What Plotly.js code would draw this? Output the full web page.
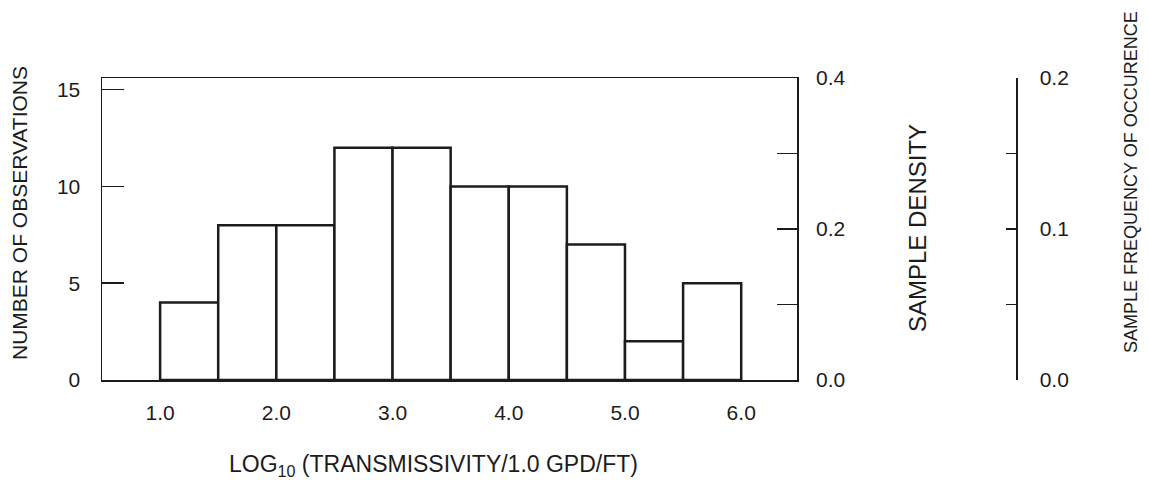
<!DOCTYPE html>
<html>
<head>
<meta charset="utf-8">
<script src="https://cdn.plot.ly/plotly-3.0.1.min.js"></script>
<style>html,body{margin:0;padding:0;background:#fff;}#chart{width:1149px;height:499px;}</style>
</head>
<body>
<div id="chart"></div>
<script>
// Data
const binStarts = [1.0, 1.5, 2.0, 2.5, 3.0, 3.5, 4.0, 4.5, 5.0, 5.5];
const counts    = [4, 8, 8, 12, 12, 10, 10, 7, 2, 5];
const binWidth  = 0.5;
const xTickVals = [1, 2, 3, 4, 5, 6];
const xTickText = ['1.0', '2.0', '3.0', '4.0', '5.0', '6.0'];
const countTickVals = [0, 5, 10, 15];

const total = counts.reduce((a, b) => a + b, 0);
const density = counts.map(c => c / (total * binWidth));
const frequency = counts.map(c => c / total);
const countMax = 15.6;

const ink = '#1c1c1c';
const fontFam = '"Liberation Sans", Arial, Helvetica, sans-serif';

const traces = [
  {
    type: 'bar', x: binStarts, y: counts, width: binWidth, offset: 0,
    marker: {color: '#ffffff', line: {color: ink, width: 2.5}},
    hoverinfo: 'skip', showlegend: false
  },
  {
    type: 'scatter', mode: 'markers', x: binStarts, y: density, yaxis: 'y2',
    marker: {opacity: 0}, hoverinfo: 'skip', showlegend: false
  },
  {
    type: 'scatter', mode: 'markers', x: binStarts, y: frequency, yaxis: 'y3',
    marker: {opacity: 0}, hoverinfo: 'skip', showlegend: false
  }
];

const plotW = 1149 - 102 - 133;
const tickSize = 21;
const layout = {
  width: 1149, height: 499,
  margin: {l: 102, r: 133, t: 78, b: 119, pad: 0},
  paper_bgcolor: '#ffffff', plot_bgcolor: '#ffffff',
  font: {family: fontFam, color: ink, size: tickSize},
  bargap: 0,
  showlegend: false,
  xaxis: {
    domain: [0, 695 / plotW], range: [0.5, 6.48],
    showline: true, linecolor: ink, linewidth: 1.5, mirror: true,
    ticks: 'inside', tickvals: xTickVals, ticktext: xTickText,
    ticklen: 8, tickwidth: 1.5, tickcolor: ink,
    showgrid: false, zeroline: false, ticklabelstandoff: 13,
    tickfont: {size: tickSize}
  },
  yaxis: {
    range: [0, countMax], tickvals: countTickVals,
    showline: true, linecolor: ink, linewidth: 1.5, mirror: true,
    ticks: 'inside', ticklen: 22, tickwidth: 1.5, tickcolor: ink,
    showgrid: false, zeroline: false, ticklabelstandoff: 16,
    tickfont: {size: tickSize}
  },
  yaxis2: {
    overlaying: 'y', side: 'right', anchor: 'x',
    range: [0, countMax / (total * binWidth)],
    tickmode: 'linear', tick0: 0, dtick: 0.2, tickformat: '.1f',
    ticks: 'inside', ticklen: 20, tickwidth: 1.5, tickcolor: ink,
    minor: {tick0: 0, dtick: 0.1, ticks: 'inside', ticklen: 20, tickwidth: 1.5, tickcolor: ink},
    showline: false, showgrid: false, zeroline: false, ticklabelstandoff: 18,
    tickfont: {size: tickSize}
  },
  yaxis3: {
    overlaying: 'y', side: 'right', anchor: 'free', position: 1,
    range: [0, countMax / total],
    tickmode: 'linear', tick0: 0, dtick: 0.1, tickformat: '.1f',
    ticks: 'inside', ticklen: 10, tickwidth: 1.5, tickcolor: ink,
    minor: {tick0: 0, dtick: 0.05, ticks: 'inside', ticklen: 10, tickwidth: 1.5, tickcolor: ink},
    showline: true, linecolor: ink, linewidth: 1.5,
    showgrid: false, zeroline: false, ticklabelstandoff: 18,
    tickfont: {size: tickSize}
  },
  annotations: [
    {text: 'NUMBER OF OBSERVATIONS', xref: 'paper', yref: 'paper',
     x: (20 - 102) / plotW, y: (380 - 213) / 302, textangle: -90,
     showarrow: false, xanchor: 'center', yanchor: 'middle', font: {size: 21}},
    {text: 'SAMPLE DENSITY', xref: 'paper', yref: 'paper',
     x: (917 - 102) / plotW, y: (380 - 228) / 302, textangle: -90,
     showarrow: false, xanchor: 'center', yanchor: 'middle', font: {size: 24}},
    {text: 'SAMPLE FREQUENCY OF OCCURENCE', xref: 'paper', yref: 'paper',
     x: (1131 - 102) / plotW, y: (380 - 182) / 302, textangle: -90,
     showarrow: false, xanchor: 'center', yanchor: 'middle', font: {size: 18}},
    {text: 'LOG<sub>10</sub> (TRANSMISSIVITY/1.0 GPD/FT)', xref: 'paper', yref: 'paper',
     x: (433 - 102) / plotW, y: (380 - 465) / 302,
     showarrow: false, xanchor: 'center', yanchor: 'middle', font: {size: 23}}
  ]
};

Plotly.newPlot('chart', traces, layout, {staticPlot: true, displayModeBar: false});
</script>
</body>
</html>
